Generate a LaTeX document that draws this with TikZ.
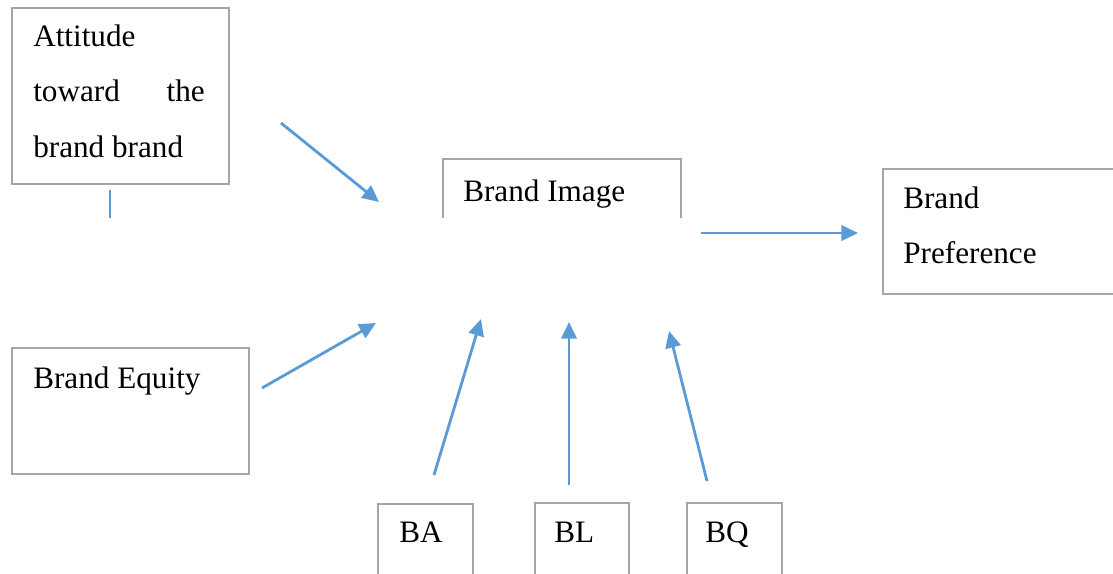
\documentclass[tikz,border=0pt]{standalone}
\usepackage{fontspec}
\setmainfont{Liberation Serif}
\usetikzlibrary{arrows.meta}
\tikzset{
  frame/.style={draw=black!35, line width=1.9pt, line join=miter},
  label/.style={anchor=base west, inner sep=0pt, font=\fontsize{23.4}{27}\selectfont},
  link/.style={draw={rgb,255:red,91;green,155;blue,213}, line width=2.1pt,
    -{Triangle[length=12.5pt,width=11.5pt]}},
  stub/.style={draw={rgb,255:red,91;green,155;blue,213}, line width=2.1pt}
}
\begin{document}
\begin{tikzpicture}[x=0.75pt,y=-0.75pt]
\useasboundingbox (0,0) rectangle (1113,574);

% boxes
\draw[frame] (12,8) rectangle (229,184);
\draw[frame] (12,348) rectangle (249,474);
\draw[frame] (443,218) -- (443,159) -- (681,159) -- (681,218);
\draw[frame] (1114,169) -- (883,169) -- (883,294) -- (1114,294);
\draw[frame] (378,576) -- (378,504) -- (473,504) -- (473,576);
\draw[frame] (535,576) -- (535,503) -- (629,503) -- (629,576);
\draw[frame] (687,576) -- (687,503) -- (782,503) -- (782,576);

% texts
\node[label] (att1) at (33,47) {Attitude};
\node[label] (att2) at (33,102) {toward};
\node[label, anchor=base east] (att3) at (205,102) {the};
\node[label] (att4) at (33,157) {brand brand};
\node[label] (equity) at (33,388) {Brand Equity};
\node[label] (image) at (463,201) {Brand Image};
\node[label] (pref1) at (903,208) {Brand};
\node[label] (pref2) at (903,263) {Preference};
\node[label] (ba) at (399,542) {BA};
\node[label] (bl) at (554,542) {BL};
\node[label] (bq) at (705,542) {BQ};

% connector end points
\coordinate (s1) at (281,123);  \coordinate (t1) at (379,202);
\coordinate (s2) at (262,388);  \coordinate (t2) at (376,323);
\coordinate (s3) at (434,475);  \coordinate (t3) at (481,319);
\coordinate (s4) at (569,485);  \coordinate (t4) at (569,322);
\coordinate (s5) at (707,481);  \coordinate (t5) at (669,331);
\coordinate (s6) at (701,233);  \coordinate (t6) at (858,233);
\coordinate (u1) at (110,190);  \coordinate (u2) at (110,218);

% connectors
\draw[link] (s1) -- (t1);
\draw[link] (s2) -- (t2);
\draw[link] (s3) -- (t3);
\draw[link] (s4) -- (t4);
\draw[link] (s5) -- (t5);
\draw[link] (s6) -- (t6);
\draw[stub] (u1) -- (u2);
\end{tikzpicture}
\end{document}
